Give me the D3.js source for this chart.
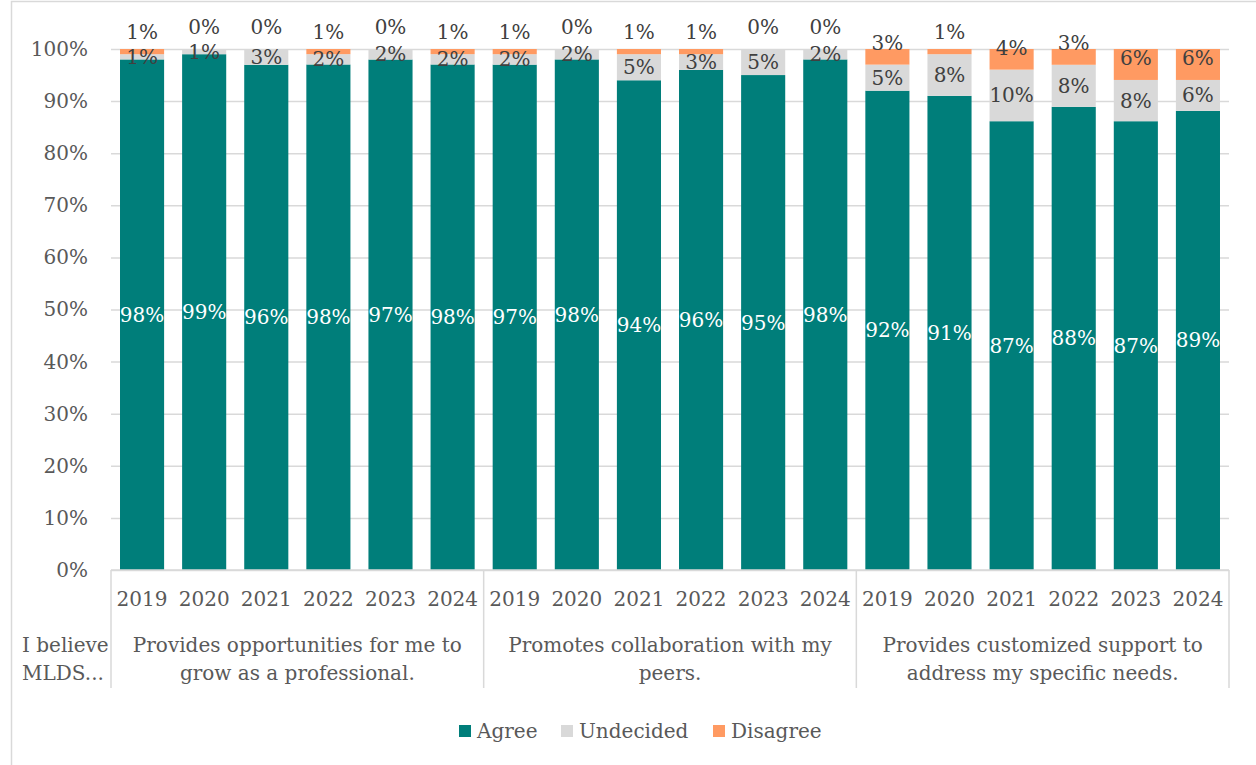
<!DOCTYPE html>
<html>
<head>
<meta charset="utf-8">
<script src="https://cdn.jsdelivr.net/npm/d3@7"></script>
<style>
  html, body { margin: 0; padding: 0; background: #fff; }
  svg { display: block; }
  text { font-family: "DejaVu Serif", "Liberation Serif", serif; }
</style>
</head>
<body>
<svg id="chart" width="1256" height="765"></svg>
<script>
// Survey responses: "I believe MLDS..." by statement and year
const years = ["2019", "2020", "2021", "2022", "2023", "2024"];
const statements = [
  ["Provides opportunities for me to", "grow as a professional."],
  ["Promotes collaboration with my", "peers."],
  ["Provides customized support to", "address my specific needs."]
];
const rowLabel = ["I believe", "MLDS..."];
const seriesNames = ["Agree", "Undecided", "Disagree"];
const seriesColors = ["#007E7A", "#D9D9D9", "#FF9A62"];

const agree     = [98, 99, 96, 98, 97, 98,  97, 98, 94, 96, 95, 98,  92, 91, 87, 88, 87, 89];
const undecided = [ 1,  1,  3,  2,  2,  2,   2,  2,  5,  3,  5,  2,   5,  8, 10,  8,  8,  6];
const disagree  = [ 1,  0,  0,  1,  0,  1,   1,  0,  1,  1,  0,  0,   3,  1,  4,  3,  6,  6];
const yTicks = [0, 0.1, 0.2, 0.3, 0.4, 0.5, 0.6, 0.7, 0.8, 0.9, 1];

const rows = agree.map((a, i) => ({
  idx: i,
  year: years[i % years.length],
  Agree: a, Undecided: undecided[i], Disagree: disagree[i]
}));

const svg = d3.select("#chart");
const plotLeft = 111, plotRight = 1229, plotTop = 49, plotBottom = 570;
const axisColor = "#D9D9D9", textColor = "#595959", labelColor = "#404040";

// Chart frame
svg.append("path")
  .attr("d", `M11.5,765 V1.5 H1256`)
  .attr("fill", "none").attr("stroke", axisColor).attr("stroke-width", 1.5);

const x = d3.scaleBand()
  .domain(rows.map(d => d.idx))
  .range([plotLeft, plotRight])
  .paddingInner(0.29)
  .paddingOuter(0.145);

const y = d3.scaleLinear().domain([0, 1]).range([plotBottom, plotTop]);

// Y axis with gridlines
const yAxis = svg.append("g")
  .attr("transform", `translate(${plotLeft},0)`)
  .call(d3.axisLeft(y).tickValues(yTicks).tickFormat(d3.format(".0%"))
    .tickSize(-(plotRight - plotLeft)).tickPadding(23));
yAxis.select(".domain").remove();
yAxis.selectAll(".tick line").attr("stroke", axisColor).attr("stroke-width", 1.5);
yAxis.selectAll(".tick text")
  .attr("fill", textColor).style("font-size", "20px");

// Stacked bars (100% stacked)
const stack = d3.stack().keys(seriesNames).offset(d3.stackOffsetExpand);
const layers = stack(rows);

const layerG = svg.append("g").selectAll("g")
  .data(layers).join("g")
  .attr("fill", (d, i) => seriesColors[i]);

layerG.selectAll("rect")
  .data(d => d)
  .join("rect")
  .attr("x", d => x(d.data.idx))
  .attr("width", x.bandwidth())
  .attr("y", d => y(d[1]))
  .attr("height", d => y(d[0]) - y(d[1]));

// Category axis baseline and group separators
const step = x.step();
svg.append("line")
  .attr("x1", plotLeft).attr("x2", plotRight)
  .attr("y1", plotBottom).attr("y2", plotBottom)
  .attr("stroke", axisColor).attr("stroke-width", 1.5);

d3.range(statements.length + 1).forEach(k => {
  const gx = plotLeft + k * years.length * step;
  svg.append("line")
    .attr("x1", gx).attr("x2", gx)
    .attr("y1", plotBottom).attr("y2", 688)
    .attr("stroke", axisColor).attr("stroke-width", 1.5);
});

// Year labels
const xAxis = svg.append("g")
  .attr("transform", `translate(0,${plotBottom})`)
  .call(d3.axisBottom(x).tickSize(0).tickPadding(22).tickFormat(i => rows[i].year));
xAxis.select(".domain").remove();
xAxis.selectAll(".tick text").attr("fill", textColor).style("font-size", "20px");

// Statement labels
statements.forEach((lines, k) => {
  const cx = plotLeft + (k + 0.5) * years.length * step;
  const t = svg.append("text")
    .attr("x", cx).attr("y", 652)
    .attr("text-anchor", "middle")
    .attr("fill", textColor).style("font-size", "20px");
  lines.forEach((ln, j) => {
    t.append("tspan").attr("x", cx).attr("dy", j === 0 ? 0 : 28).text(ln);
  });
});

const rl = svg.append("text")
  .attr("x", 22).attr("y", 652)
  .attr("fill", textColor).style("font-size", "20px");
rowLabel.forEach((ln, j) => {
  rl.append("tspan").attr("x", 22).attr("dy", j === 0 ? 0 : 28).text(ln);
});

// Data labels
const labelG = svg.append("g").style("font-size", "20px");
layers.forEach((layer, li) => {
  labelG.selectAll(null)
    .data(layer)
    .join("text")
    .attr("x", d => x(d.data.idx) + x.bandwidth() / 2)
    .attr("y", d => li === 2 ? y(d[0]) - 22 : (y(d[0]) + y(d[1])) / 2)
    .attr("dy", "0.35em")
    .attr("text-anchor", "middle")
    .attr("fill", li === 0 ? "#FFFFFF" : labelColor)
    .text(d => d.data[layer.key] + "%");
});

// Legend
const legendItems = [
  { name: "Agree", x: 459 },
  { name: "Undecided", x: 561 },
  { name: "Disagree", x: 713 }
];
const legend = svg.append("g");
legendItems.forEach((it, i) => {
  legend.append("rect")
    .attr("x", it.x).attr("y", 725)
    .attr("width", 12).attr("height", 12)
    .attr("fill", seriesColors[i]);
  legend.append("text")
    .attr("x", it.x + 18).attr("y", 731)
    .attr("dy", "0.35em")
    .attr("fill", textColor).style("font-size", "20px")
    .text(it.name);
});
</script>
</body>
</html>
